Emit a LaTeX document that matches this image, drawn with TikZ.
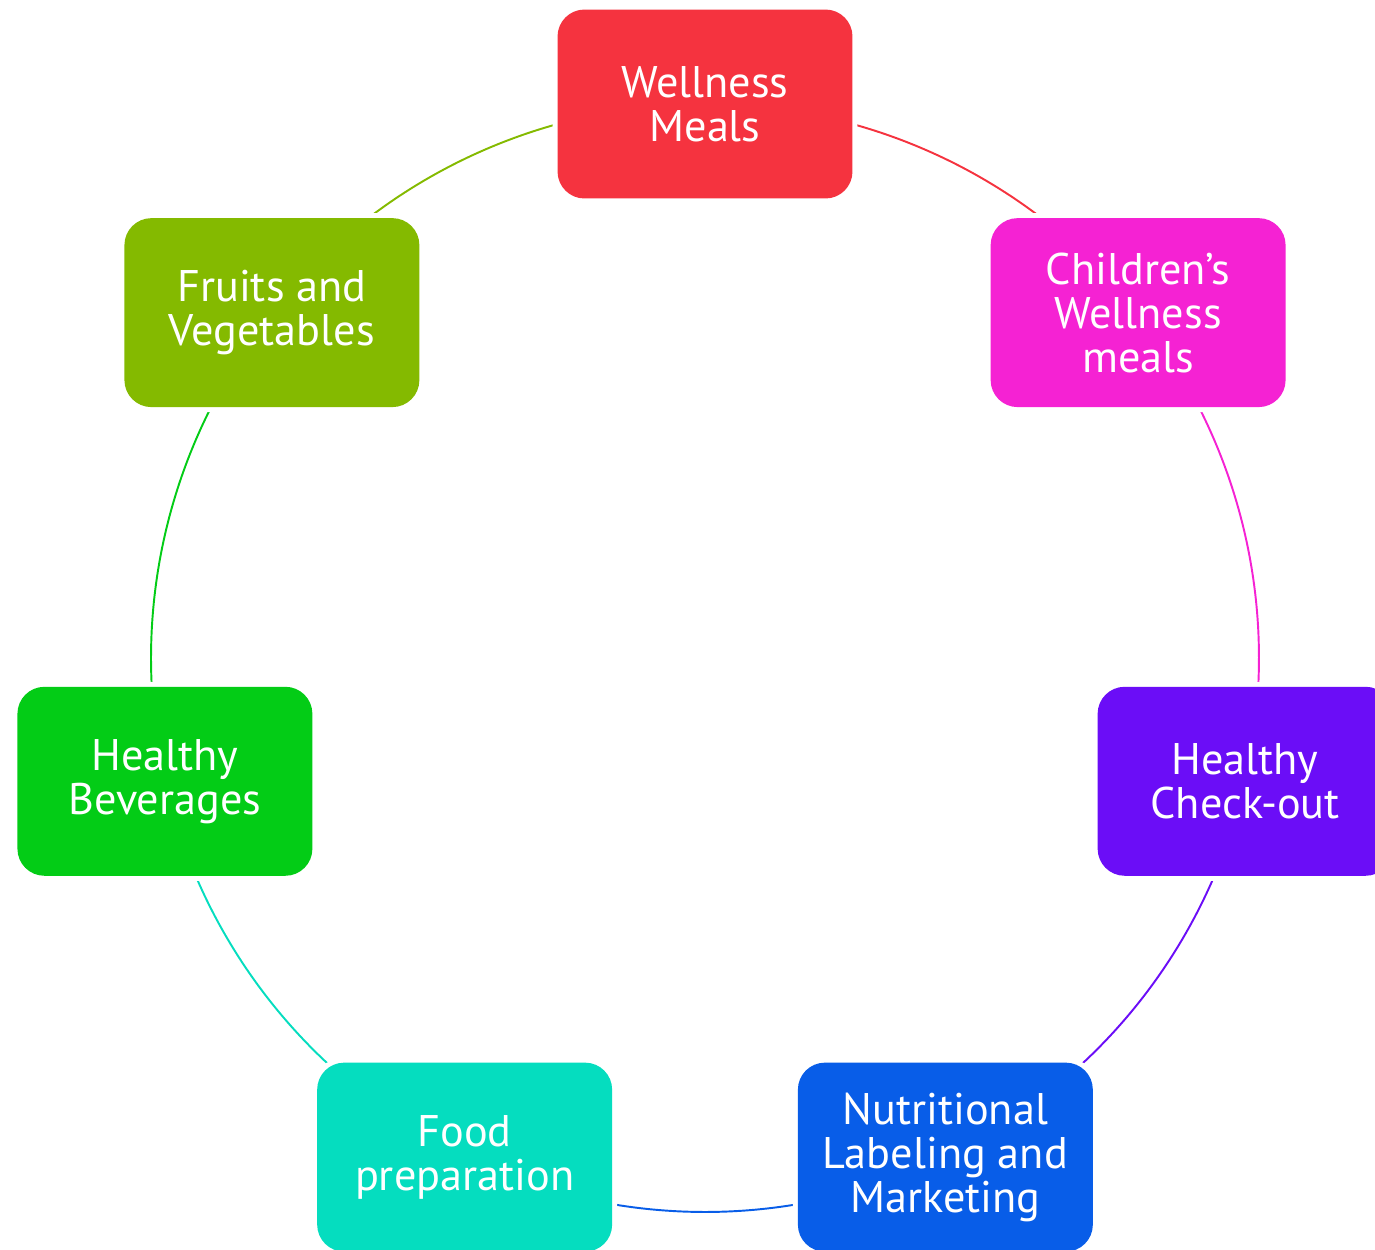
\documentclass[tikz,border=0pt]{standalone}
\usepackage{fontspec}
\setmainfont{PT Sans}
\usetikzlibrary{backgrounds}

\definecolor{cRed}{HTML}{F5333F}
\definecolor{cMagenta}{HTML}{F522D3}
\definecolor{cPurple}{HTML}{6B0DF7}
\definecolor{cBlue}{HTML}{085DE8}
\definecolor{cTeal}{HTML}{05DDBF}
\definecolor{cGreen}{HTML}{03CC16}
\definecolor{cOlive}{HTML}{84BA00}

\tikzset{
  stage/.style={
    rectangle, rounded corners=0.54cm,
    minimum width=5.9cm, minimum height=3.78cm, inner sep=0pt,
    align=center, text=white,
    font=\fontsize{25.2}{25}\selectfont,
    preaction={draw=white, line width=2mm}
  },
  link/.style={line width=1.1pt}
}

\begin{document}
\begin{tikzpicture}[x=0.02cm, y=0.02cm]
  \useasboundingbox (0,0) rectangle (1375,-1249);
  \clip (0,0) rectangle (1375,-1249);

  % centre of the ring; seven stages spaced 360/7 degrees apart
  \coordinate (C) at (705,-658);
  \def\R{11.08cm}
  \def\stepang{51.4286}

  \begin{scope}[shift={(C)}]
    \node[stage, fill=cRed]     (n1) at (90:554)        {Wellness\\Meals};
    \node[stage, fill=cMagenta] (n2) at (38.5714:554)   {Children’s\\Wellness\\meals};
    \node[stage, fill=cPurple]  (n3) at (-12.8571:554)  {Healthy\\Check-out};
    \node[stage, fill=cBlue]    (n4) at (-64.2857:554)  {Nutritional\\Labeling and\\Marketing};
    \node[stage, fill=cTeal]    (n5) at (-115.7143:554) {Food\\preparation};
    \node[stage, fill=cGreen]   (n6) at (-167.1429:554) {Healthy\\Beverages};
    \node[stage, fill=cOlive]   (n7) at (141.4286:554)  {Fruits and\\Vegetables};
  \end{scope}

  % ring segments, each in the colour of the stage it leaves
  \begin{scope}[on background layer]
    \draw[link, cRed]     (n1.center) arc[start angle=90,        delta angle=-\stepang, radius=\R];
    \draw[link, cMagenta] (n2.center) arc[start angle=38.5714,   delta angle=-\stepang, radius=\R];
    \draw[link, cPurple]  (n3.center) arc[start angle=-12.8571,  delta angle=-\stepang, radius=\R];
    \draw[link, cBlue]    (n4.center) arc[start angle=-64.2857,  delta angle=-\stepang, radius=\R];
    \draw[link, cTeal]    (n5.center) arc[start angle=-115.7143, delta angle=-\stepang, radius=\R];
    \draw[link, cGreen]   (n6.center) arc[start angle=-167.1429, delta angle=-\stepang, radius=\R];
    \draw[link, cOlive]   (n7.center) arc[start angle=141.4286,  delta angle=-\stepang, radius=\R];
  \end{scope}
\end{tikzpicture}
\end{document}
